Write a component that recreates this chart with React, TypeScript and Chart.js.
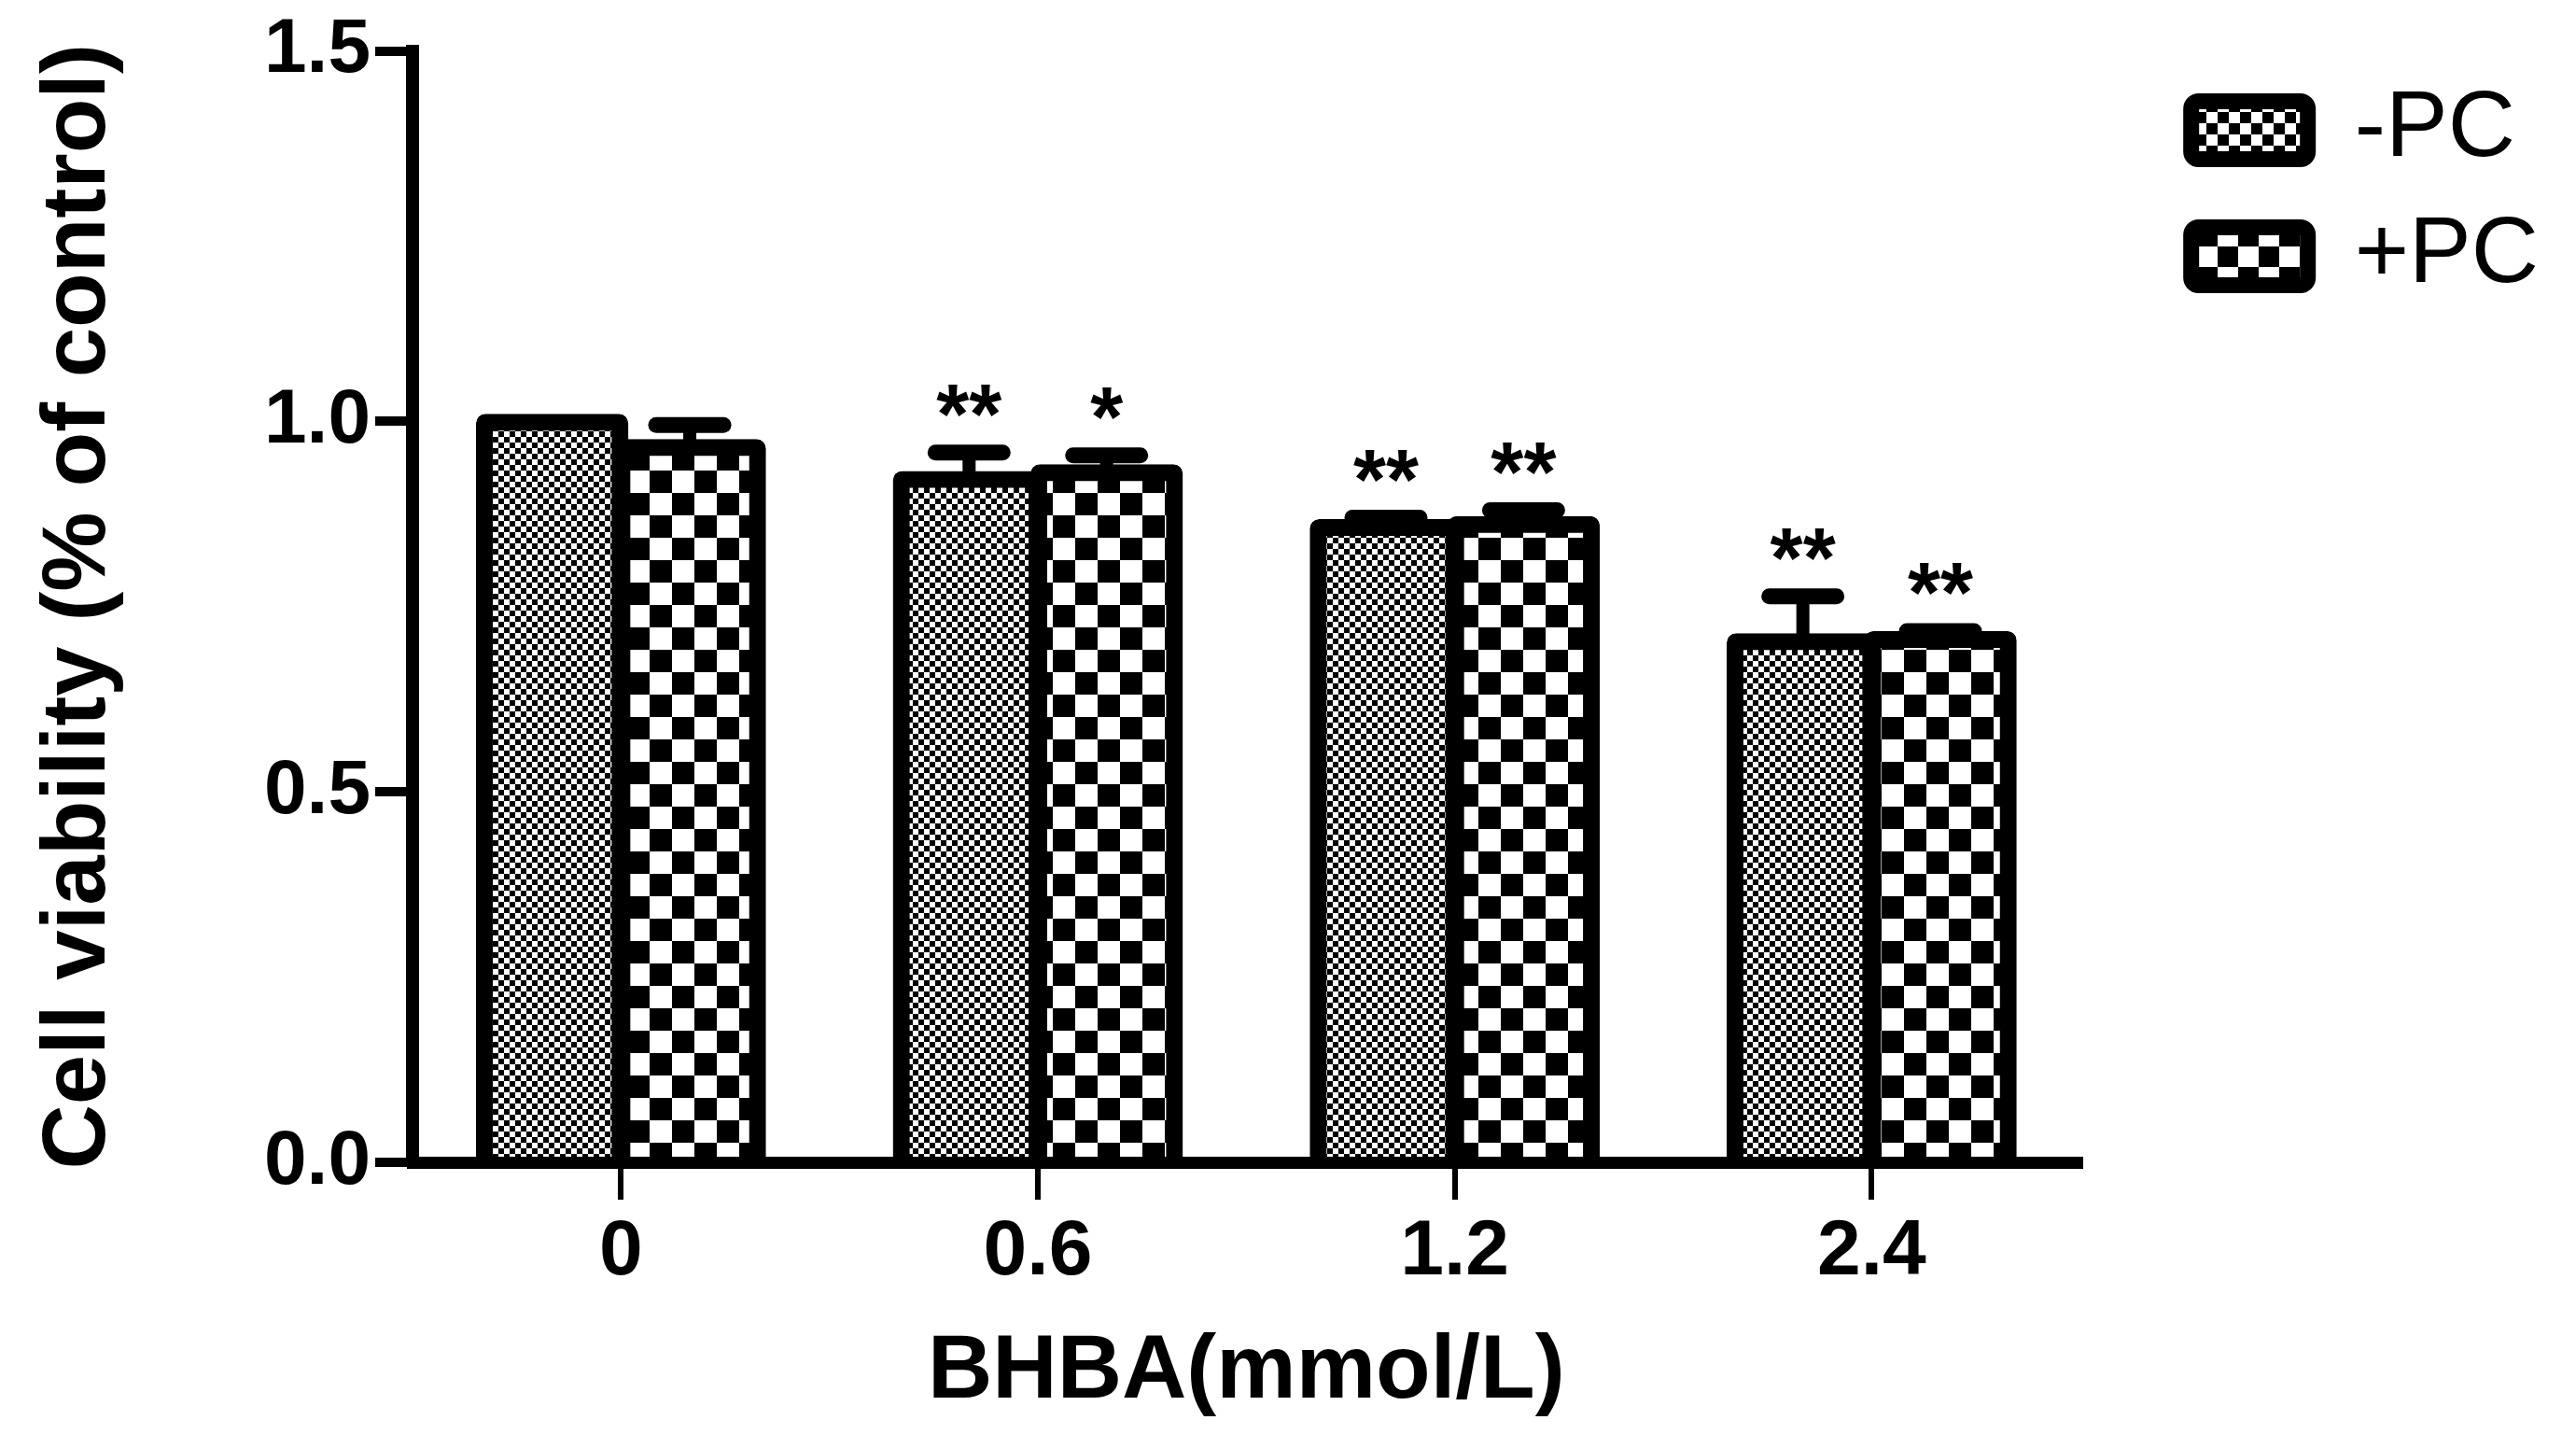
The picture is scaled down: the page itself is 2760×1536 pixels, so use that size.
import React, { useEffect, useRef } from 'react';
import { Chart, registerables } from 'chart.js';

Chart.register(...registerables);

// ---- data ----
const categories = ['0', '0.6', '1.2', '2.4'];
const seriesNames = ['-PC', '+PC'];
const minusPC = [1.0, 0.923, 0.858, 0.704];
const minusPCErr = [0, 0.035, 0.012, 0.06];
const plusPC = [0.966, 0.932, 0.862, 0.707];
const plusPCErr = [0.029, 0.022, 0.018, 0.01];
const minusPCSig = ['', '**', '**', '**'];
const plusPCSig = ['', '*', '**', '**'];
const yTicks = [0, 0.5, 1.0, 1.5];
const yTickLabels = ['0.0', '0.5', '1.0', '1.5'];
const xTitle = 'BHBA(mmol/L)';
const yTitle = 'Cell viability (% of control)';

const FONT = '"Liberation Sans", Arial, Helvetica, sans-serif';

function makeChecker(ctx: CanvasRenderingContext2D, size: number): CanvasPattern {
  const c = document.createElement('canvas');
  c.width = size * 2;
  c.height = size * 2;
  const g = c.getContext('2d') as CanvasRenderingContext2D;
  g.fillStyle = '#fff';
  g.fillRect(0, 0, size * 2, size * 2);
  g.fillStyle = '#000';
  g.fillRect(0, 0, size, size);
  g.fillRect(size, size, size, size);
  return ctx.createPattern(c, 'repeat') as CanvasPattern;
}

const errorBarPlugin = {
  id: 'errorBarsAndStars',
  afterDatasetsDraw(chart: any) {
    const ctx = chart.ctx as CanvasRenderingContext2D;
    const yScale = chart.scales.y;
    const vals = [minusPC, plusPC];
    const errs = [minusPCErr, plusPCErr];
    const sigs = [minusPCSig, plusPCSig];
    ctx.save();
    ctx.strokeStyle = '#000';
    ctx.fillStyle = '#000';
    for (let d = 0; d < vals.length; d++) {
      const meta = chart.getDatasetMeta(d);
      meta.data.forEach((el: any, j: number) => {
        const { x, y } = el.getProps(['x', 'y'], true);
        const err = errs[d][j];
        let markTop = y - 8;
        if (err > 0) {
          const top = yScale.getPixelForValue(vals[d][j] + err);
          ctx.lineCap = 'butt';
          ctx.lineWidth = 14;
          ctx.beginPath();
          ctx.moveTo(x, y);
          ctx.lineTo(x, top);
          ctx.stroke();
          ctx.lineCap = 'round';
          ctx.lineWidth = 17;
          ctx.beginPath();
          ctx.moveTo(x - 36, top);
          ctx.lineTo(x + 36, top);
          ctx.stroke();
          markTop = top;
        }
        const s = sigs[d][j];
        if (s) {
          ctx.font = `bold 90px ${FONT}`;
          ctx.textAlign = 'center';
          ctx.textBaseline = 'alphabetic';
          const m = ctx.measureText(s);
          const cy = markTop - 56;
          const baseline = cy + (m.actualBoundingBoxAscent - m.actualBoundingBoxDescent) / 2;
          ctx.fillText(s, x, baseline);
        }
      });
    }
    ctx.restore();
  },
};

export default function App() {
  const canvasRef = useRef<HTMLCanvasElement | null>(null);

  useEffect(() => {
    document.body.style.margin = '0';
    const canvas = canvasRef.current;
    if (!canvas) return;
    const ctx = canvas.getContext('2d') as CanvasRenderingContext2D;
    const barPatterns = [makeChecker(ctx, 6), makeChecker(ctx, 24)];
    const legendPatterns = [makeChecker(ctx, 12), makeChecker(ctx, 22)];
    const seriesValues = [minusPC, plusPC];

    const chart = new Chart(ctx, {
      type: 'bar',
      data: {
        labels: categories,
        datasets: seriesNames.map((name, i) => ({
          label: name,
          data: seriesValues[i],
          backgroundColor: barPatterns[i],
          borderColor: '#000',
          borderWidth: 18,
          borderSkipped: 'start',
          inflateAmount: 8,
          borderRadius: 10,
          categoryPercentage: 0.66,
          barPercentage: 1.0,
        })) as any,
      },
      options: {
        responsive: false,
        animation: false,
        events: [],
        layout: { padding: { top: 54.5, right: 30, bottom: 0, left: 0 } },
        plugins: {
          tooltip: { enabled: false },
          legend: {
            position: 'right',
            align: 'start',
            labels: {
              boxWidth: 125,
              boxHeight: 62,
              padding: 35,
              color: '#000',
              useBorderRadius: true,
              borderRadius: 8,
              font: { size: 100, family: FONT, weight: 'normal' },
              generateLabels: () =>
                seriesNames.map((name, i) => ({
                  text: name,
                  fillStyle: legendPatterns[i] as any,
                  strokeStyle: '#000',
                  lineWidth: 17,
                  lineJoin: 'round',
                  hidden: false,
                  datasetIndex: i,
                  borderRadius: 8,
                  fontColor: '#000',
                })) as any,
            },
          },
        },
        scales: {
          x: {
            type: 'category',
            offset: true,
            grid: {
              offset: false,
              drawOnChartArea: false,
              drawTicks: true,
              tickLength: 40,
              lineWidth: 6,
              color: '#000',
            },
            border: { display: true, width: 13, color: '#000', z: 1 },
            ticks: {
              color: '#000',
              padding: 6,
              maxRotation: 0,
              autoSkip: false,
              font: { size: 84, weight: 'bold', family: FONT },
            },
            title: {
              display: true,
              text: xTitle,
              color: '#000',
              font: { size: 96, weight: 'bold', family: FONT },
              padding: { top: 0, bottom: 8 },
            },
            afterFit: (s: any) => {
              s.height = 291;
            },
          },
          y: {
            type: 'linear',
            min: 0,
            max: 1.5,
            afterBuildTicks: (s: any) => {
              s.ticks = yTicks.map((v) => ({ value: v }));
            },
            ticks: {
              color: '#000',
              padding: 5,
              font: { size: 82, weight: 'bold', family: FONT },
              callback: (_v: any, i: number) => yTickLabels[i],
            },
            grid: {
              drawOnChartArea: false,
              drawTicks: true,
              tickLength: 40,
              lineWidth: 10,
              color: '#000',
            },
            border: { display: true, width: 14, color: '#000', z: 1 },
            title: {
              display: true,
              text: yTitle,
              color: '#000',
              font: { size: 96, weight: 'bold', family: FONT },
              padding: { top: 28, bottom: 0 },
            },
            afterFit: (s: any) => {
              s.width = 442;
            },
          },
          spacer: {
            type: 'linear',
            position: 'right',
            display: true,
            grid: { display: false },
            border: { display: false },
            ticks: { display: false },
            afterFit: (s: any) => {
              s.width = 84;
            },
          },
        } as any,
      },
      plugins: [errorBarPlugin as any],
    });

    return () => {
      chart.destroy();
    };
  }, []);

  return (
    <div style={{ position: 'fixed', left: 0, top: 0, width: 2760, height: 1536, background: '#fff' }}>
      <canvas ref={canvasRef} width={2760} height={1536} style={{ width: 2760, height: 1536, display: 'block' }} />
    </div>
  );
}
